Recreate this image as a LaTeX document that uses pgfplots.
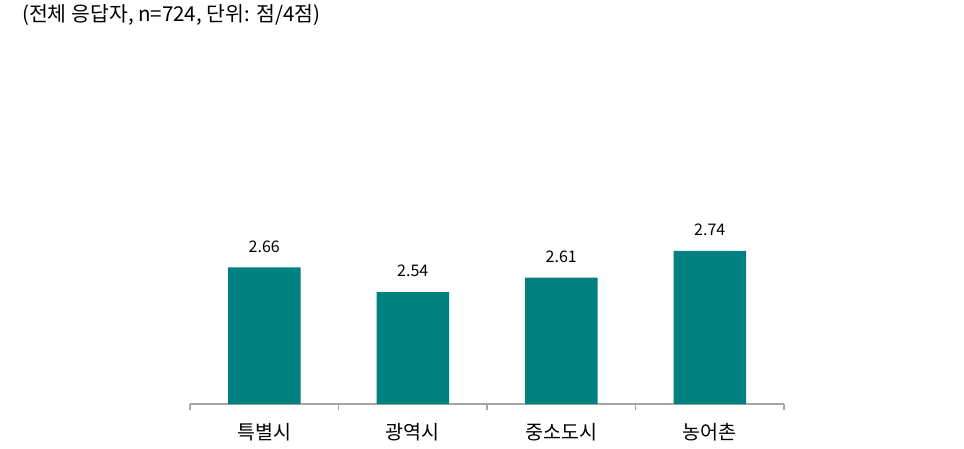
\documentclass[border=0pt]{standalone}
\usepackage{fontspec}
\setmainfont{Noto Sans CJK KR}
\usepackage{pgfplots}
\pgfplotsset{compat=1.18}
\definecolor{barteal}{HTML}{008080}
\definecolor{axgray}{HTML}{A6A6A6}
\begin{document}
\begin{tikzpicture}[x=1pt,y=1pt]
\useasboundingbox (0,0) rectangle (964,448);
\node[anchor=west, inner sep=0pt, font=\fontsize{20.5}{24}\selectfont] at (22,433) {(전체 응답자, n=724, 단위: 점/4점)};
\begin{axis}[
  at={(190pt,44pt)}, anchor=south west, scale only axis,
  width=594pt, height=207pt,
  xmin=-0.5, xmax=3.5, ymin=2, ymax=3,
  ybar, bar width=72.5pt,
  axis x line*=bottom, axis y line=none,
  axis line style={axgray, line width=1.3pt},
  xtick={0,1,2,3},
  xticklabels={특별시,광역시,중소도시,농어촌},
  major tick length=0pt,
  minor xtick={-0.5,0.5,1.5,2.5,3.5},
  minor tick length=6pt,
  tick align=outside,
  minor tick style={axgray, line width=1.1pt},
  xticklabel style={font=\fontsize{19.5}{23}\selectfont, yshift=-16pt},
  /pgf/number format/assume math mode=true,
  /pgf/number format/.cd, fixed, fixed zerofill, precision=2, /pgfplots/.cd,
  nodes near coords,
  nodes near coords style={font=\fontsize{16}{19}\selectfont, text=black, yshift=11.5pt},
  clip=false,
]
\addplot[fill=barteal, draw=none] coordinates {(0,2.66) (1,2.54) (2,2.61) (3,2.74)};
\end{axis}
\end{tikzpicture}
\end{document}
